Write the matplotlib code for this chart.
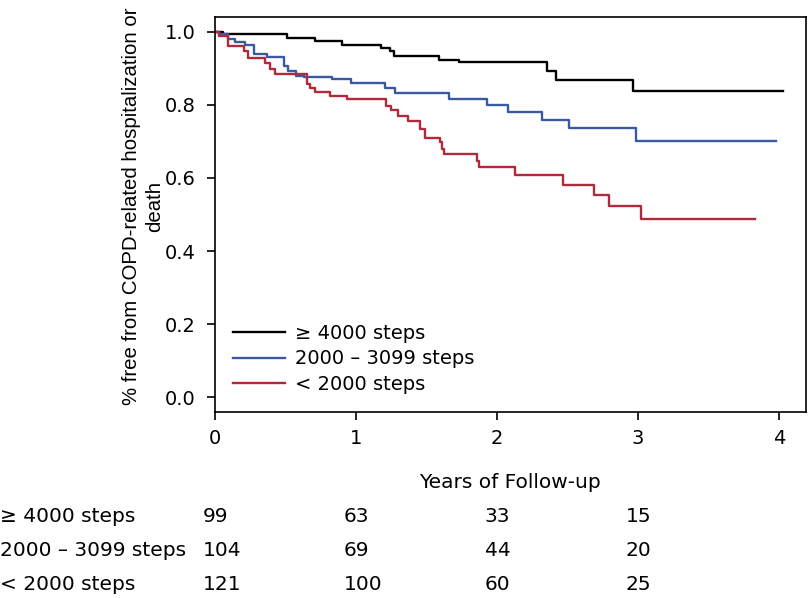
import matplotlib
matplotlib.use("Agg")
import matplotlib.pyplot as plt
import matplotlib.transforms as mtransforms

# Kaplan-Meier steps (years, proportion event-free)
t_high = [0, 0.06, 0.51, 0.71, 0.90, 1.175, 1.24, 1.27, 1.587, 1.727, 2.357, 2.418, 2.96, 4.03]
s_high = [1.0, 0.994, 0.982, 0.974, 0.964, 0.955, 0.946, 0.934, 0.923, 0.916, 0.891, 0.868, 0.839, 0.839]

t_mid = [0, 0.03, 0.095, 0.14, 0.21, 0.28, 0.37, 0.49, 0.52, 0.575, 0.63, 0.83, 0.967, 1.203,
         1.279, 1.658, 1.93, 2.08, 2.317, 2.512, 2.984, 3.98]
s_mid = [1.0, 0.993, 0.980, 0.973, 0.964, 0.940, 0.930, 0.905, 0.893, 0.880, 0.876, 0.870, 0.859,
         0.845, 0.832, 0.816, 0.800, 0.781, 0.758, 0.737, 0.701, 0.701]

t_low = [0, 0.025, 0.095, 0.207, 0.235, 0.354, 0.389, 0.425, 0.653, 0.67, 0.708, 0.814, 0.936,
         1.21, 1.25, 1.297, 1.367, 1.45, 1.486, 1.592, 1.608, 1.627, 1.858, 1.875, 2.13, 2.465,
         2.684, 2.795, 3.02, 3.83]
s_low = [1.0, 0.989, 0.960, 0.948, 0.927, 0.915, 0.897, 0.883, 0.856, 0.847, 0.835, 0.824, 0.815,
         0.798, 0.787, 0.768, 0.755, 0.733, 0.710, 0.697, 0.679, 0.665, 0.647, 0.631, 0.609, 0.582,
         0.553, 0.523, 0.487, 0.487]

group_labels = ["\u2265 4000 steps", "2000 \u2013 3099 steps", "< 2000 steps"]
colors = ["black", "#3a5aa0", "#b02a3c"]

risk_times = [0, 1, 2, 3]
at_risk = [[99, 63, 33, 15],
           [104, 69, 44, 20],
           [121, 100, 60, 25]]

txt_font = "DejaVu Sans"
fs = 14

fig = plt.figure(figsize=(8.09, 5.98), dpi=100)
ax = fig.add_axes([215 / 809, 1 - 412 / 598, 591 / 809, 395 / 598])

for t, s, c, lab in zip([t_high, t_mid, t_low], [s_high, s_mid, s_low], colors, group_labels):
    ax.plot(t, s, drawstyle="steps-post", color=c, lw=1.7, label=lab)

ax.set_xlim(0, 4.19)
ax.set_ylim(-0.04, 1.04)
ax.set_xticks([0, 1, 2, 3, 4])
ax.set_yticks([0.0, 0.2, 0.4, 0.6, 0.8, 1.0])
ax.set_yticklabels(["0.0", "0.2", "0.4", "0.6", "0.8", "1.0"])
ax.tick_params(direction="out", length=6, width=1.2, labelsize=fs)
ax.tick_params(axis="x", pad=6)
ax.tick_params(axis="y", pad=8)
for lbl in ax.get_xticklabels() + ax.get_yticklabels():
    lbl.set_family(txt_font)
for sp in ax.spines.values():
    sp.set_linewidth(1.2)

leg = ax.legend(loc="upper left", bbox_to_anchor=(0.0, 0.268), frameon=False,
                handlelength=2.7, handletextpad=0.5, labelspacing=0.35,
                prop={"family": txt_font, "size": fs}, borderaxespad=0.5)

fig.text(143 / 809, 1 - 206 / 598,
         "% free from COPD-related hospitalization or\ndeath",
         rotation=90, ha="center", va="center", fontsize=14.7, family="Liberation Sans",
         linespacing=1.25)

fig.text(510 / 809, 1 - 482 / 598, "Years of Follow-up", ha="center", va="center",
         fontsize=14.5, family=txt_font)

trans = mtransforms.blended_transform_factory(ax.transData, fig.transFigure)
row_y = [517, 551, 585]
for lab, counts, y in zip(group_labels, at_risk, row_y):
    fig.text(0.0, 1 - y / 598, lab, ha="left", va="center", fontsize=14.5, family=txt_font)
    for tt, n in zip(risk_times, counts):
        ax.text(tt - 0.087, 1 - y / 598, str(n), transform=trans, ha="left", va="center",
                fontsize=14.5, family=txt_font, clip_on=False)

fig.savefig("out.png", dpi=100)
